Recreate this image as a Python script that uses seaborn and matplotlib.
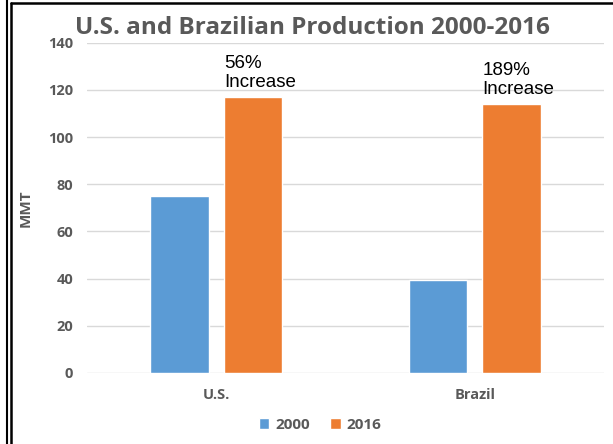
import matplotlib
matplotlib.use("Agg")
import matplotlib.pyplot as plt
from matplotlib.lines import Line2D
import pandas as pd
import seaborn as sns

countries = ["U.S.", "Brazil"]
years = ["2000", "2016"]
prod_2000 = [75.0, 39.3]
prod_2016 = [117.0, 114.0]
increase_labels = ["56%\nIncrease", "189%\nIncrease"]

df = pd.DataFrame({
    "country": countries * 2,
    "year": [years[0]] * 2 + [years[1]] * 2,
    "mmt": prod_2000 + prod_2016,
})

sns.set_theme(style="white")
plt.rcParams["font.family"] = ["Open Sans", "DejaVu Sans"]

GRAY = "#595959"
fig = plt.figure(figsize=(6.13, 4.44), dpi=100)
ax = fig.add_axes([87 / 613, 1 - 373 / 444, 517 / 613, (373 - 42.7) / 444])

sns.barplot(data=df, x="country", y="mmt", hue="year", order=countries,
            hue_order=years, palette=["#5B9BD5", "#ED7D31"],
            width=0.57, gap=0.21, saturation=1, ax=ax, zorder=3)

ax.set_ylim(0, 140)
ax.set_yticks(range(0, 141, 20))
ax.yaxis.grid(True, color="#D9D9D9", lw=1, zorder=0)
ax.xaxis.grid(False)
for s in ax.spines.values():
    s.set_visible(False)
ax.tick_params(axis="y", length=0, pad=10, labelsize=10.5, labelcolor=GRAY)
ax.tick_params(axis="x", length=0, pad=11, labelsize=10.5, labelcolor=GRAY)
for t in ax.get_xticklabels() + ax.get_yticklabels():
    t.set_fontweight("bold")
ax.set_xlabel("")
ax.set_ylabel("MMT", fontsize=11, fontweight="bold", color=GRAY)
ax.yaxis.set_label_coords(-0.106, 0.5)

# percent increase labels above the 2016 bars
bars_2016 = ax.containers[1]
for bar, lab in zip(bars_2016, increase_labels):
    ax.annotate(lab, (bar.get_x(), bar.get_height()), xytext=(0, 4),
                textcoords="offset points", ha="left", va="bottom",
                fontsize=13.5, family="Liberation Sans", color="black",
                linespacing=1.18)

handles, labels = ax.get_legend_handles_labels()
ax.legend(handles, labels, loc="center", bbox_to_anchor=(320 / 613, 1 - 425 / 444),
          bbox_transform=fig.transFigure, ncol=2, frameon=False,
          handlelength=0.7, handleheight=0.7, handletextpad=0.4, columnspacing=1.3,
          prop={"size": 11, "weight": "bold"}, labelcolor=GRAY)

fig.text(312 / 613, 1 - 28 / 444, "U.S. and Brazilian Production 2000-2016",
         ha="center", va="center", fontsize=17.5, fontweight="bold", color=GRAY)

# frame lines around the picture
fig.add_artist(Line2D([7 / 613, 7 / 613], [0, 1], transform=fig.transFigure,
                      color="black", lw=1.5))
fig.add_artist(Line2D([11 / 613, 11 / 613], [0, 1 - 3.5 / 444], transform=fig.transFigure,
                      color="black", lw=1.8))
fig.add_artist(Line2D([11 / 613, 1], [1 - 3.5 / 444, 1 - 3.5 / 444], transform=fig.transFigure,
                      color="black", lw=1.8))

fig.savefig("out.png", dpi=100)
